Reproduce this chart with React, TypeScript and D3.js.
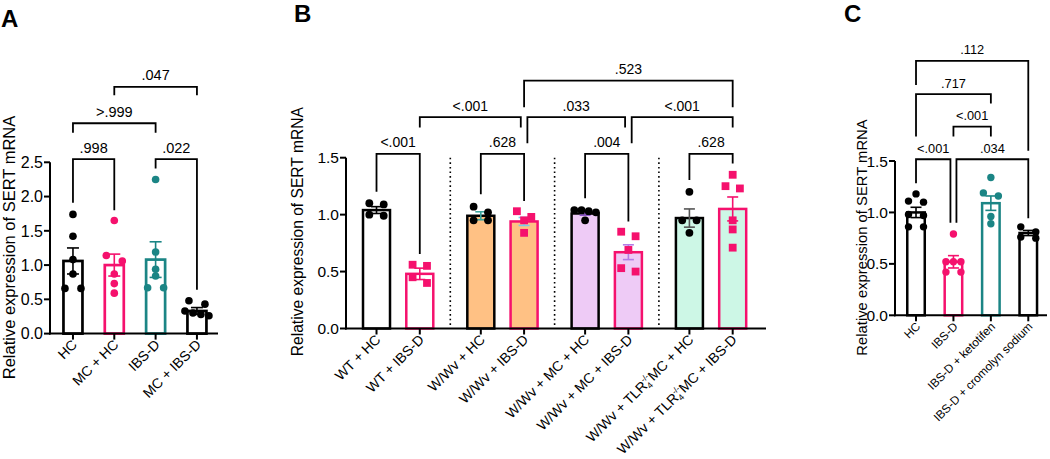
import React from "react";
import * as d3 from "d3";

// ---------------- DATA ----------------
// Panel A
const catsA = ["HC", "MC + HC", "IBS-D", "MC + IBS-D"];
const meanA = [1.06, 1.0, 1.08, 0.33];
const semA = [0.19, 0.16, 0.26, 0.05];
const ptsA = [
  [1.74, 1.42, 1.08, 0.87, 0.66, 0.66],
  [1.65, 1.14, 1.06, 0.87, 0.73, 0.59],
  [2.25, 1.19, 0.94, 0.84, 0.67, 0.67],
  [0.48, 0.43, 0.33, 0.3, 0.28, 0.26],
];
const ticksA = [0, 0.5, 1, 1.5, 2, 2.5];
const statsA = [
  { a: 0, b: 1, label: ".998", y: 2.545, la: 1.91, lb: 1.8 },
  { a: 2, b: 3, label: ".022", y: 2.545, la: 2.41, lb: 0.64 },
  { a: 0, b: 2, label: ">.999", y: 3.07, la: 2.93, lb: 2.93 },
  { a: 1, b: 3, label: ".047", y: 3.6, la: 3.48, lb: 3.48 },
];

// Panel B
const groupsB = ["WT", "W/Wv", "W/Wv + MC", "W/Wv + TLR4-/-MC"];
const condB = ["HC", "IBS-D"];
const catsB = [
  "WT + HC",
  "WT + IBS-D",
  "W/Wv + HC",
  "W/Wv + IBS-D",
  "W/Wv + MC + HC",
  "W/Wv + MC + IBS-D",
  "W/Wv + TLR4-/-MC + HC",
  "W/Wv + TLR4-/-MC + IBS-D",
];
const meanB = [1.04, 0.48, 0.99, 0.94, 1.01, 0.67, 0.97, 1.05];
const semB = [0.03, 0.05, 0.035, 0.035, 0.015, 0.065, 0.08, 0.105];
const ptsB = [
  [1.1, 1.09, 1.0, 0.99],
  [0.56, 0.55, 0.45, 0.4],
  [1.07, 1.02, 0.95, 0.95],
  [1.03, 0.98, 0.95, 0.84],
  [1.04, 1.04, 1.03, 1.02, 0.95],
  [0.85, 0.81, 0.69, 0.53, 0.5],
  [1.2, 0.95, 0.95, 0.84],
  [1.35, 1.25, 1.23, 0.95, 0.87, 0.71],
];
const ticksB = [0, 0.5, 1, 1.5];
const statsB = [
  { a: 0, b: 1, label: "<.001", y: 1.533, la: 1.2, lb: 0.655, sa: 0, sb: 0 },
  { a: 2, b: 3, label: ".628", y: 1.533, la: 1.18, lb: 1.12, sa: 0, sb: 0 },
  { a: 4, b: 5, label: ".004", y: 1.533, la: 1.144, lb: 0.94, sa: 0, sb: 0 },
  { a: 6, b: 7, label: ".628", y: 1.533, la: 1.305, lb: 1.45, sa: 0, sb: 0 },
  { a: 1, b: 3, label: "<.001", y: 1.856, la: 1.765, lb: 1.765, sa: 0, sb: -1 },
  { a: 3, b: 5, label: ".033", y: 1.856, la: 1.627, lb: 1.765, sa: 1, sb: -1 },
  { a: 5, b: 7, label: "<.001", y: 1.856, la: 1.627, lb: 1.765, sa: 1, sb: 0 },
  { a: 3, b: 7, label: ".523", y: 2.177, la: 1.944, lb: 1.944, sa: 0, sb: 0 },
];

// Panel C
const catsC = ["HC", "IBS-D", "IBS-D + ketotifen", "IBS-D + cromolyn sodium"];
const meanC = [1.0, 0.52, 1.09, 0.8];
const semC = [0.05, 0.06, 0.07, 0.025];
const ptsC = [
  [1.18, 1.11, 1.1, 0.98, 0.97, 0.86, 0.86],
  [0.79, 0.52, 0.52, 0.52, 0.42, 0.42],
  [1.34, 1.19, 1.16, 0.96, 0.89],
  [0.86, 0.81, 0.76, 0.75],
];
const ticksC = [0, 0.5, 1, 1.5];
const statsC = [
  { a: 0, b: 1, label: "<.001", y: 1.517, la: 1.284, lb: 0.9, sa: 0, sb: -1 },
  { a: 1, b: 3, label: ".034", y: 1.517, la: 0.9, lb: 0.944, sa: 1, sb: 0 },
  { a: 1, b: 2, label: "<.001", y: 1.835, la: 1.737, lb: 1.737, sa: 0, sb: 0 },
  { a: 0, b: 2, label: ".717", y: 2.15, la: 1.737, lb: 2.06, sa: 0, sb: 0 },
  { a: 0, b: 3, label: ".112", y: 2.474, la: 2.24, lb: 1.6, sa: 0, sb: 0 },
];

// ---------------- STYLES ----------------
const PINK = "#f5116d";
const TEAL = "#1b8585";
const BLACK = "#000";
const ORANGE = "#ffc184";
const LAV = "#eecbf6";
const MINT = "#cdf7e6";
const FONT = "'Liberation Sans', Arial, Helvetica, sans-serif";

const colorsA = [BLACK, PINK, TEAL, BLACK];
const colorsC = [BLACK, PINK, TEAL, BLACK];
const fillB = ["#fff", "#fff", ORANGE, ORANGE, LAV, LAV, MINT, MINT];
const strokeB = [BLACK, PINK, BLACK, PINK, BLACK, PINK, BLACK, PINK];
const errB = [BLACK, PINK, "#3aa39c", "#79cbee", "#8e55c8", "#b47de6", "#555", PINK];

type Placed = { y: number; dx: number };
function swarm(vals: number[], y: (v: number) => number, d: number, thr: number): Placed[] {
  const idx = vals.map((v, i) => ({ v, i, py: y(v) })).sort((a, b) => a.py - b.py);
  const out: Placed[] = new Array(vals.length);
  let row: typeof idx = [];
  const flush = () => {
    const n = row.length;
    row.forEach((p, k) => {
      const off = n === 2 ? (k === 0 ? -d : d) : (k - (n - 1) / 2) * d;
      out[p.i] = { y: p.py, dx: off };
    });
    row = [];
  };
  for (const p of idx) {
    if (row.length && p.py - row[0].py > thr) flush();
    row.push(p);
  }
  flush();
  return out;
}

type PanelProps = {
  letter: string;
  letterPos: [number, number];
  titlePos: [number, number];
  titleSize: number;
  tickSize: number;
  catSize: number;
  statSize: number;
  axisX: number;
  axisEnd: number;
  y: d3.ScaleLinear<number, number>;
  ticks: number[];
  xs: number[];
  labels: React.ReactNode[];
  means: number[];
  sems: number[];
  pts: number[][];
  barW: number;
  barSW: number;
  fills: string[];
  strokes: string[];
  errs: string[];
  ptColors: string[];
  shapes: string[];
  r: number;
  d: number;
  cap: number;
  stats: { a: number; b: number; label: string; y: number; la: number; lb: number; sa?: number; sb?: number }[];
  nudge: number;
  extra?: React.ReactNode;
};

function Panel(p: PanelProps) {
  const y0 = p.y(0);
  const yTop = p.y(p.ticks[p.ticks.length - 1]);
  return (
    <g fontFamily={FONT}>
      <text x={p.letterPos[0]} y={p.letterPos[1]} fontSize={24} fontWeight="bold">
        {p.letter}
      </text>
      <text
        transform={`translate(${p.titlePos[0]},${p.titlePos[1]}) rotate(-90)`}
        textAnchor="middle"
        fontSize={p.titleSize}
      >
        Relative expression of SERT mRNA
      </text>
      {p.extra}
      {/* bars */}
      {p.xs.map((x, i) => (
        <rect
          key={"b" + i}
          x={x - p.barW / 2}
          y={p.y(p.means[i])}
          width={p.barW}
          height={y0 - p.y(p.means[i])}
          fill={p.fills[i]}
          stroke={p.strokes[i]}
          strokeWidth={p.barSW}
        />
      ))}
      {/* error bars */}
      {p.xs.map((x, i) => {
        const hi = p.y(p.means[i] + p.sems[i]);
        const lo = p.y(p.means[i] - p.sems[i]);
        return (
          <g key={"e" + i} stroke={p.errs[i]} strokeWidth={1.6}>
            <line x1={x} x2={x} y1={hi} y2={lo} />
            <line x1={x - p.cap / 2} x2={x + p.cap / 2} y1={hi} y2={hi} />
            <line x1={x - p.cap / 2} x2={x + p.cap / 2} y1={lo} y2={lo} />
          </g>
        );
      })}
      {/* points */}
      {p.xs.map((x, i) => {
        const placed = swarm(p.pts[i], p.y, p.d, 6.3);
        return (
          <g key={"p" + i} fill={p.ptColors[i]}>
            {placed.map((q, k) =>
              p.shapes[i] === "square" ? (
                <rect key={k} x={x + q.dx - p.r} y={q.y - p.r} width={2 * p.r} height={2 * p.r} />
              ) : (
                <circle key={k} cx={x + q.dx} cy={q.y} r={p.r} />
              )
            )}
          </g>
        );
      })}
      {/* axes */}
      <line x1={p.axisX} x2={p.axisX} y1={yTop} y2={y0 + 1} stroke="#000" strokeWidth={2} />
      <line x1={p.axisX - 1} x2={p.axisEnd} y1={y0} y2={y0} stroke="#000" strokeWidth={2} />
      {p.ticks.map((t) => (
        <g key={"t" + t}>
          <line x1={p.axisX - 6} x2={p.axisX} y1={p.y(t)} y2={p.y(t)} stroke="#000" strokeWidth={2} />
          <text x={p.axisX - 7} y={p.y(t)} dy="0.36em" textAnchor="end" fontSize={p.tickSize}>
            {d3.format(".1f")(t)}
          </text>
        </g>
      ))}
      {p.xs.map((x, i) => (
        <g key={"xl" + i}>
          <line x1={x} x2={x} y1={y0} y2={y0 + 6} stroke="#000" strokeWidth={2} />
          <text
            transform={`translate(${x + 5},${y0 + 12}) rotate(-45)`}
            textAnchor="end"
            fontSize={p.catSize}
          >
            {p.labels[i]}
          </text>
        </g>
      ))}
      {/* significance brackets */}
      {p.stats.map((s, i) => {
        const xa = p.xs[s.a] + (s.sa || 0) * p.nudge;
        const xb = p.xs[s.b] + (s.sb || 0) * p.nudge;
        const yy = p.y(s.y);
        return (
          <g key={"s" + i}>
            <path
              d={`M${xa},${p.y(s.la)}V${yy}H${xb}V${p.y(s.lb)}`}
              fill="none"
              stroke="#000"
              strokeWidth={1.8}
            />
            <text x={(xa + xb) / 2} y={yy - 6.5} textAnchor="middle" fontSize={p.statSize}>
              {s.label}
            </text>
          </g>
        );
      })}
    </g>
  );
}

function labelB(name: string, fs: number): React.ReactNode {
  const key = "TLR4-/-";
  if (!name.includes(key)) return name;
  const [pre, post] = name.split(key);
  return (
    <>
      {pre}TLR
      <tspan dy={3} fontSize={fs * 0.62}>4</tspan>
      <tspan dy={-9} dx={-5} fontSize={fs * 0.58}>-/-</tspan>
      <tspan dy={6}>{post}</tspan>
    </>
  );
}

export default function App() {
  // Panel A scales
  const yA = d3.scaleLinear().domain([0, 2.5]).range([333.6, 162.3]);
  const xA = d3.scaleBand<string>().domain(catsA).range([52.3, 217.6]);
  const xsA = catsA.map((c) => (xA(c) as number) + xA.bandwidth() / 2);

  // Panel B scales
  const yB = d3.scaleLinear().domain([0, 1.5]).range([328.5, 157.7]);
  const gB = d3.scaleBand<string>().domain(groupsB).range([346, 763.2]);
  const inB = d3.scalePoint<string>().domain(condB).range([0, gB.bandwidth()]).padding(0.705);
  const xsB = catsB.map((_, i) => (gB(groupsB[Math.floor(i / 2)]) as number) + (inB(condB[i % 2]) as number));

  // Panel C scales
  const yC = d3.scaleLinear().domain([0, 1.5]).range([315.3, 161]);
  const xC = d3.scaleBand<string>().domain(catsC).range([897.3, 1047]);
  const xsC = catsC.map((c) => (xC(c) as number) + xC.bandwidth() / 2);

  const seps = groupsB.slice(1).map((g) => gB(g) as number);

  return (
    <svg
      width={1050}
      height={459}
      viewBox="0 0 1050 459"
      style={{ position: "absolute", left: 0, top: 0, background: "#fff" }}
    >
      <rect x={0} y={0} width={1050} height={459} fill="#fff" />
      <Panel
        letter="A"
        letterPos={[1, 27]}
        titlePos={[15, 247.5]}
        titleSize={16.5}
        tickSize={16}
        catSize={14}
        statSize={14.5}
        axisX={50}
        axisEnd={218}
        y={yA}
        ticks={ticksA}
        xs={xsA}
        labels={catsA}
        means={meanA}
        sems={semA}
        pts={ptsA}
        barW={19}
        barSW={2.7}
        fills={catsA.map(() => "#fff")}
        strokes={colorsA}
        errs={colorsA}
        ptColors={colorsA}
        shapes={catsA.map(() => "circle")}
        r={3.8}
        d={8}
        cap={12}
        stats={statsA}
        nudge={0}
      />
      <Panel
        letter="B"
        letterPos={[294, 22]}
        titlePos={[303, 231.7]}
        titleSize={15.6}
        tickSize={15.5}
        catSize={14}
        statSize={14}
        axisX={346}
        axisEnd={766}
        y={yB}
        ticks={ticksB}
        xs={xsB}
        labels={catsB.map((c) => labelB(c, 14))}
        means={meanB}
        sems={semB}
        pts={ptsB}
        barW={27}
        barSW={2.5}
        fills={fillB}
        strokes={strokeB}
        errs={errB}
        ptColors={strokeB}
        shapes={strokeB.map((c) => (c === PINK ? "square" : "circle"))}
        r={3.9}
        d={7.2}
        cap={11}
        stats={statsB}
        nudge={3.3}
        extra={seps.map((sx, i) => (
          <line
            key={"sep" + i}
            x1={sx}
            x2={sx}
            y1={yB(1.5)}
            y2={yB(0)}
            stroke="#000"
            strokeWidth={1.6}
            strokeDasharray="1.6,3"
          />
        ))}
      />
      <Panel
        letter="C"
        letterPos={[844, 22]}
        titlePos={[867, 237.5]}
        titleSize={14.8}
        tickSize={15.5}
        catSize={11.8}
        statSize={12.8}
        axisX={895}
        axisEnd={1047}
        y={yC}
        ticks={ticksC}
        xs={xsC}
        labels={catsC}
        means={meanC}
        sems={semC}
        pts={ptsC}
        barW={17.5}
        barSW={2.5}
        fills={catsC.map(() => "#fff")}
        strokes={colorsC}
        errs={colorsC}
        ptColors={colorsC}
        shapes={catsC.map(() => "circle")}
        r={3.7}
        d={7.5}
        cap={11}
        stats={statsC}
        nudge={3}
      />
    </svg>
  );
}
